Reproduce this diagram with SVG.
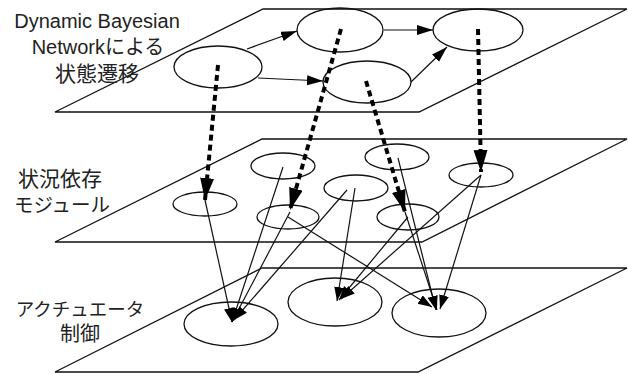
<svg xmlns="http://www.w3.org/2000/svg" width="628" height="374" viewBox="0 0 628 374">
<style>
.plane{fill:none;stroke:#111;stroke-width:1.3}
.node{fill:none;stroke:#111;stroke-width:1.3}
.lbl{font-family:"Liberation Sans","Noto Sans CJK JP",sans-serif;font-size:20px;fill:#222;text-anchor:middle}
.a{stroke:#111;stroke-width:1.2;fill:none}
.d{stroke:#000;stroke-width:4;stroke-dasharray:6 4;fill:none}
</style>
<defs>
<marker id="ht" markerUnits="userSpaceOnUse" markerWidth="17" markerHeight="11" refX="16" refY="5" orient="auto"><path d="M0,0 L16,5 L0,10 z" fill="#000"/></marker>
<marker id="hd" markerUnits="userSpaceOnUse" markerWidth="23" markerHeight="15" refX="22" refY="7" orient="auto"><path d="M0,0 L22,7 L0,14 z" fill="#000"/></marker>
<marker id="hb" markerUnits="userSpaceOnUse" markerWidth="15" markerHeight="11" refX="14" refY="5" orient="auto"><path d="M0,0 L14,5 L0,10 z" fill="#000"/></marker>
</defs>
<g id="planes">
<polygon class="plane" points="263,9 627,9 419,112 55,112"/>
<polygon class="plane" points="262,139 627,139 422,242 55,242"/>
<polygon class="plane" points="262,268 627,268 418,372 55,372"/>
</g>
<g id="labels">
<text class="lbl" x="97" y="28">Dynamic Bayesian</text>
<text class="lbl" x="98" y="54">Networkによる</text>
<text class="lbl" x="97" y="81" style="font-size:21px">状態遷移</text>
<text class="lbl" x="60" y="186" style="font-size:21px">状況依存</text>
<text class="lbl" x="62" y="212" style="font-size:19.5px">モジュール</text>
<text class="lbl" x="80" y="316" style="font-size:18.5px">アクチュエータ</text>
<text class="lbl" x="80" y="341">制御</text>
</g>
<g id="E1"><ellipse class="node" cx="218" cy="67" rx="44" ry="21"/></g>
<g id="E2"><ellipse class="node" cx="340" cy="30" rx="43" ry="22"/></g>
<g id="E3"><ellipse class="node" cx="478" cy="30" rx="45" ry="21"/></g>
<g id="E4"><ellipse class="node" cx="367" cy="82" rx="44" ry="21"/></g>
<g id="M1"><ellipse class="node" cx="205" cy="204" rx="32" ry="12"/></g>
<g id="M2"><ellipse class="node" cx="283" cy="166" rx="32" ry="13"/></g>
<g id="M3"><ellipse class="node" cx="288" cy="217" rx="31" ry="12"/></g>
<g id="M4"><ellipse class="node" cx="356" cy="188" rx="32" ry="13"/></g>
<g id="M5"><ellipse class="node" cx="397" cy="157" rx="32" ry="13"/></g>
<g id="M6"><ellipse class="node" cx="408" cy="217" rx="31" ry="13"/></g>
<g id="M7"><ellipse class="node" cx="481" cy="175" rx="32" ry="12"/></g>
<g id="B1"><ellipse class="node" cx="231" cy="324" rx="47" ry="22"/></g>
<g id="B2"><ellipse class="node" cx="335" cy="302" rx="47" ry="24"/></g>
<g id="B3"><ellipse class="node" cx="439" cy="313" rx="47" ry="24"/></g>
<g id="connectors">
<line class="a" x1="247" y1="49" x2="297" y2="31" marker-end="url(#ht)"/>
<line class="a" x1="258" y1="78" x2="323" y2="81" marker-end="url(#ht)"/>
<line class="a" x1="384" y1="30" x2="433" y2="30" marker-end="url(#ht)"/>
<line class="a" x1="411" y1="82" x2="447" y2="47" marker-end="url(#ht)"/>
<line class="d" x1="218" y1="65" x2="205" y2="200" marker-end="url(#hd)"/>
<line class="d" x1="341" y1="29" x2="290" y2="210" marker-end="url(#hd)"/>
<line class="d" x1="366" y1="81" x2="405" y2="212" marker-end="url(#hd)"/>
<line class="d" x1="478" y1="29" x2="481" y2="172" marker-end="url(#hd)"/>
<line class="a" x1="205" y1="200" x2="232" y2="322" marker-end="url(#hb)"/>
<line class="a" x1="283" y1="167" x2="232" y2="322" marker-end="url(#hb)"/>
<line class="a" x1="290" y1="212" x2="232" y2="322" marker-end="url(#hb)"/>
<line class="a" x1="347" y1="190" x2="234" y2="320" marker-end="url(#hb)"/>
<line class="a" x1="355" y1="188" x2="337" y2="301" marker-end="url(#hb)"/>
<line class="a" x1="408" y1="217" x2="339" y2="300" marker-end="url(#hb)"/>
<line class="a" x1="481" y1="175" x2="341" y2="299" marker-end="url(#hb)"/>
<line class="a" x1="288" y1="217" x2="432" y2="307" marker-end="url(#hb)"/>
<line class="a" x1="398" y1="158" x2="436" y2="310" marker-end="url(#hb)"/>
<line class="a" x1="405" y1="212" x2="437" y2="310" marker-end="url(#hb)"/>
<line class="a" x1="481" y1="175" x2="440" y2="309" marker-end="url(#hb)"/>
</g>
</svg>
